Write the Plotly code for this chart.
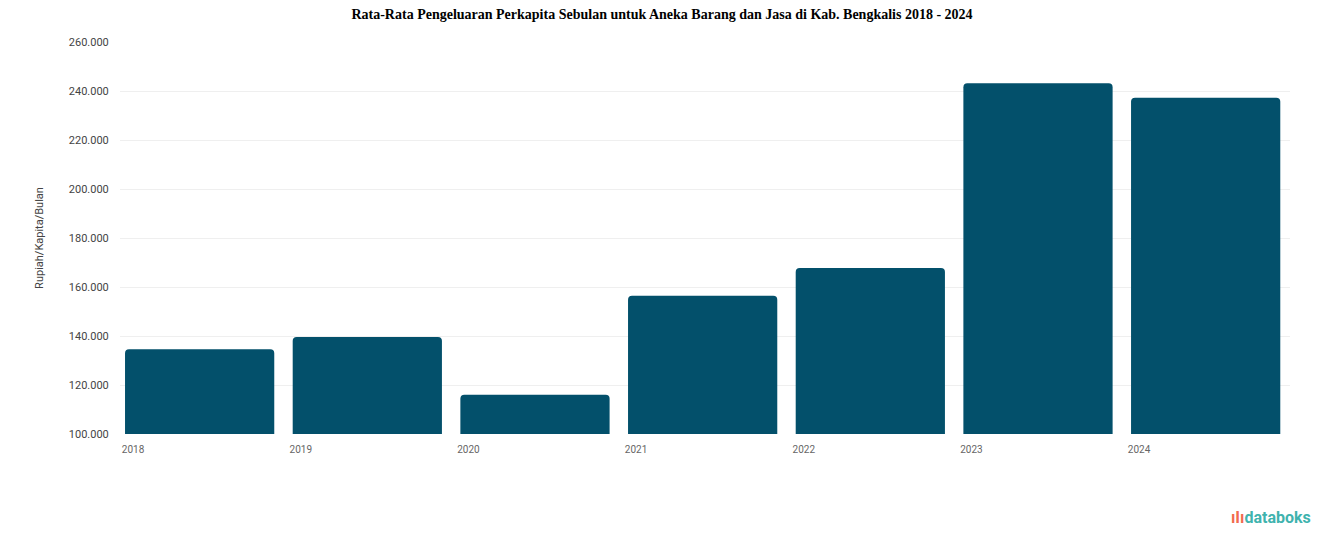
import plotly.graph_objects as go

# data (labels are blurred, values estimated)
years = ["2018", "2019", "2020", "2021", "2022", "2023", "2024"]
spending = [134600, 139600, 116000, 156400, 167800, 243200, 237200]

y_ticks = [100000, 120000, 140000, 160000, 180000, 200000, 220000, 240000, 260000]

title_text = "Rata-Rata Pengeluaran Perkapita Sebulan untuk Aneka Barang dan Jasa di Kab. Bengkalis 2018 - 2024"
y_title = "Rupiah/Kapita/Bulan"

fig = go.Figure()
fig.add_trace(go.Bar(
    x=years,
    y=spending,
    base=0,
    marker=dict(color="#03506B", line=dict(width=0)),
    width=0.89,
    offset=-0.048,
    hovertemplate="%{x}: %{y:,}<extra></extra>",
))

# page body has an 8px margin, so the figure is a bit smaller than the window
fig.update_layout(
    width=1308, height=531,
    paper_bgcolor="white", plot_bgcolor="white",
    margin=dict(l=112, r=26, t=34, b=105),
    barcornerradius=4,
    showlegend=False,
    separators=",.",
    title=dict(
        text="<b>" + title_text + "</b>",
        x=0.5, xanchor="center", y=0.997, yanchor="top",
        font=dict(family="Liberation Serif", size=14, color="#000"),
    ),
    font=dict(family="Roboto", color="#555"),
)

fig.update_xaxes(
    type="category",
    range=[-0.078, 6.9],
    showgrid=False, zeroline=False, showline=False,
    ticks="outside", ticklen=6, tickcolor="rgba(0,0,0,0)",
    tickfont=dict(size=10, color="#666"),
)
fig.update_yaxes(
    range=[100000, 260000],
    tickvals=y_ticks,
    tickformat=",d",
    showgrid=True, gridcolor="#efefef", gridwidth=1,
    zeroline=False, showline=False,
    ticks="outside", ticklen=8, tickcolor="rgba(0,0,0,0)",
    tickfont=dict(size=11, color="#444"),
    title=dict(text=y_title, font=dict(size=11, color="#444"), standoff=22),
)

fig.add_annotation(
    text="<b><span style='color:#F26B4F'>ıIı</span><span style='color:#3FB3AE'>databoks</span></b>",
    xref="paper", yref="paper",
    x=1.02, y=-0.214, xanchor="right", yanchor="middle",
    showarrow=False, font=dict(family="Roboto", size=16),
)

fig.write_html("out.html")
